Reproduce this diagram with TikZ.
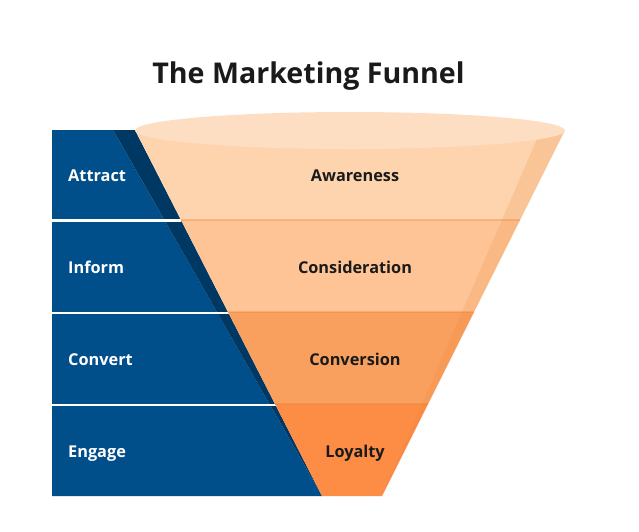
\documentclass[tikz,border=0pt]{standalone}
\usepackage{fontspec}
\setmainfont{Open Sans}
\usetikzlibrary{calc}
\definecolor{blueband}{RGB}{0,78,138}
\definecolor{bluedark}{RGB}{0,56,100}
\definecolor{bandA}{RGB}{253,212,173}
\definecolor{bandB}{RGB}{254,196,150}
\definecolor{bandC}{RGB}{249,160,94}
\definecolor{bandD}{RGB}{253,140,68}
\definecolor{rimcol}{RGB}{253,222,194}
\definecolor{shadeor}{RGB}{235,130,55}
\definecolor{inkcol}{RGB}{26,26,26}
\tikzset{
  leftlabel/.style={anchor=base west, text=white, font=\bfseries\fontsize{16.3}{18}\selectfont, inner sep=0pt},
  funlabel/.style={anchor=base, text=inkcol, font=\bfseries\fontsize{16.3}{18}\selectfont, inner sep=0pt},
  sepline/.style={draw=white, line width=2.5pt},
  funsep/.style={draw=shadeor, draw opacity=0.35, line width=2pt}
}
\begin{document}
\begin{tikzpicture}[x=1pt,y=-1pt]
\useasboundingbox[fill=white] (0,0) rectangle (639,531);
% key coordinates
\coordinate (tl) at (135,130);
\coordinate (bl) at (322,496);
\coordinate (tr) at (565,130);
\coordinate (br) at (382,496);
\coordinate (bt) at (113,130);
\coordinate (st) at (541,130);
\coordinate (l1) at ($(tl)!0.2459!(bl)$);
\coordinate (l2) at ($(tl)!0.4973!(bl)$);
\coordinate (l3) at ($(tl)!0.7486!(bl)$);
\coordinate (r1) at ($(tr)!0.2459!(br)$);
\coordinate (r2) at ($(tr)!0.4973!(br)$);
\coordinate (r3) at ($(tr)!0.7486!(br)$);
% blue side
\fill[blueband] (52,130) -- (bt) -- (bl) -- (52,496) -- cycle;
\fill[bluedark] (bt) -- (tl) -- (bl) -- cycle;
\draw[sepline] (52,220.7) -- (l1 |- 0,220.7);
\draw[sepline] (52,313) -- ($(l2 |- 0,313)+(2,0)$);
\draw[sepline] (52,405) -- ($(l3 |- 0,405)+(2,0)$);
% funnel bands
\fill[bandA] (tl) -- (tr) -- (r1) -- (l1) -- cycle;
\fill[bandB] (l1) -- (r1) -- (r2) -- (l2) -- cycle;
\fill[bandC] (l2) -- (r2) -- (r3) -- (l3) -- cycle;
\fill[bandD] (l3) -- (r3) -- (br) -- (bl) -- cycle;
\fill[shadeor, fill opacity=0.18] (st) -- (tr) -- (br) -- cycle;
\draw[funsep] (l1) -- (r1);
\draw[funsep] (l2) -- (r2);
\draw[funsep] (l3) -- (r3);
% rim
\fill[rimcol] (350,130.5) ellipse [x radius=215, y radius=18.5];
% texts
\node[anchor=base, text=inkcol, font=\bfseries\fontsize{28.6}{32}\selectfont, inner sep=0pt] (title) at (308.5,83) {The Marketing Funnel};
\node[leftlabel] (attract) at (68,181) {Attract};
\node[leftlabel] (inform) at (68,273) {Inform};
\node[leftlabel] (convert) at (68,365) {Convert};
\node[leftlabel] (engage) at (68,457.5) {Engage};
\node[funlabel] (awareness) at (355,181) {Awareness};
\node[funlabel] (consideration) at (355,273) {Consideration};
\node[funlabel] (conversion) at (355,365) {Conversion};
\node[funlabel] (loyalty) at (355,457.5) {Loyalty};
\end{tikzpicture}
\end{document}
